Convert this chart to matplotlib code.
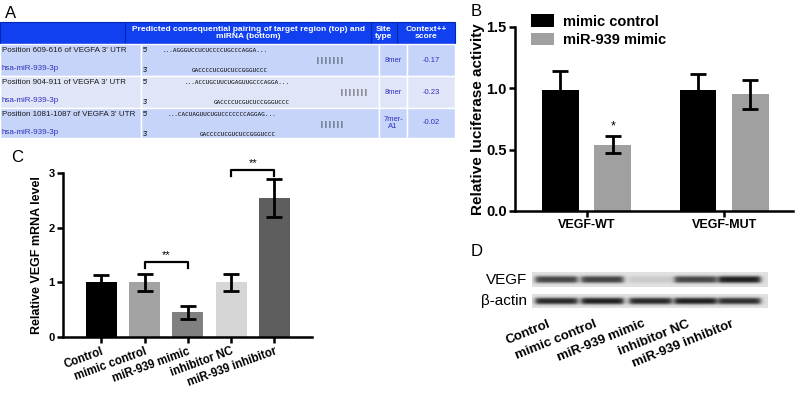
import numpy as np
import matplotlib
matplotlib.use('Agg')
import matplotlib.pyplot as plt
from matplotlib.patches import Rectangle

plt.rcParams['font.family'] = ['Liberation Sans', 'DejaVu Sans']

# Panel A - tabla de sitios
posiciones = ["Position 609-616 of VEGFA 3' UTR",
              "Position 904-911 of VEGFA 3' UTR",
              "Position 1081-1087 of VEGFA 3' UTR"]
mirna = "hsa-miR-939-3p"
seq_diana = ["...AGGGUCCUCUCCCCUGCCCAGGA...",
             "...ACCUGCUUCUGAGUUGCCCAGGA...",
             "...CACUAGUUCUGUCCCCCCCAGGAG..."]
seq_mirna = "GACCCCUCGUCUCCGGGUCCC"
emparejamiento = [7, 7, 6]
tipo_sitio = ["8mer", "8mer", "7mer-\nA1"]
context_score = ["-0.17", "-0.23", "-0.02"]

# Panel B - luciferasa
grupos_b = ["VEGF-WT", "VEGF-MUT"]
control_b = [0.99, 0.99]
control_b_err = [0.15, 0.13]
mimic_b = [0.54, 0.95]
mimic_b_err = [0.07, 0.12]

# Panel C - mRNA
grupos_c = ["Control", "mimic control", "miR-939 mimic", "inhibitor NC", "miR-939 inhibitor"]
valores_c = [1.01, 1.00, 0.45, 1.00, 2.54]
errores_c = [0.12, 0.16, 0.12, 0.16, 0.35]
colores_c = ['#000000', '#a3a3a3', '#808080', '#d6d6d6', '#5e5e5e']

# Panel D - western blot (intensidad relativa de banda)
bandas_vegf = [0.80, 0.82, 0.12, 0.80, 1.00]
bandas_actina = [0.95, 1.00, 0.95, 1.00, 0.92]

W, H = 796, 401
fig = plt.figure(figsize=(W / 100, H / 100), dpi=100)

def px_axes(x0, y0, x1, y1):
    return fig.add_axes([x0 / W, 1 - y1 / H, (x1 - x0) / W, (y1 - y0) / H])

# ---------------- Panel B ----------------
axb = px_axes(515, 27, 793, 211)
xg = np.arange(len(grupos_b))
off, ancho = 0.19, 0.265
axb.bar(xg - off, control_b, ancho, color='black', label='mimic control', zorder=2)
axb.bar(xg + off, mimic_b, ancho, color='#a0a0a0', label='miR-939 mimic', zorder=2)
axb.errorbar(xg - off, control_b, yerr=control_b_err, fmt='none', ecolor='black',
             elinewidth=2, capsize=6, capthick=2, zorder=3)
axb.errorbar(xg + off, mimic_b, yerr=mimic_b_err, fmt='none', ecolor='black',
             elinewidth=2, capsize=6, capthick=2, zorder=3)
axb.text(xg[0] + off, mimic_b[0] + mimic_b_err[0] + 0.03, '*', ha='center', va='bottom', fontsize=9)
axb.set_xlim(-0.52, 1.5)
axb.set_ylim(0, 1.5)
axb.set_yticks([0, 0.5, 1.0, 1.5])
axb.set_yticklabels(['0.0', '0.5', '1.0', '1.5'], fontweight='bold', fontsize=10.5)
axb.set_xticks(xg)
axb.set_xticklabels(grupos_b, fontweight='bold', fontsize=9)
axb.set_ylabel('Relative luciferase activity', fontweight='bold', fontsize=11, labelpad=1)
for s in ['top', 'right']:
    axb.spines[s].set_visible(False)
for s in ['left', 'bottom']:
    axb.spines[s].set_linewidth(1.8)
axb.tick_params(width=1.8, length=4, pad=2)
axb.legend(loc='upper left', bbox_to_anchor=(0.035, 1.1), frameon=False,
           prop={'weight': 'bold', 'size': 10.5}, handlelength=1.6, handleheight=0.9,
           labelspacing=0.3, borderaxespad=0, handletextpad=0.6)

# ---------------- Panel C ----------------
axc = px_axes(63, 173, 312, 337)
xc = np.arange(len(grupos_c))
axc.bar(xc, valores_c, 0.72, color=colores_c, zorder=2)
axc.errorbar(xc, valores_c, yerr=errores_c, fmt='none', ecolor='black',
             elinewidth=2, capsize=6, capthick=2, zorder=3)
axc.set_xlim(-0.89, 4.87)
axc.set_ylim(0, 3)
axc.set_yticks([0, 1, 2, 3])
axc.set_yticklabels(['0', '1', '2', '3'], fontweight='bold', fontsize=8)
axc.set_xticks(xc)
axc.set_xticklabels(grupos_c, fontweight='bold', fontsize=8.3, rotation=20,
                    ha='right', rotation_mode='anchor')
axc.set_ylabel('Relative VEGF mRNA level', fontweight='bold', fontsize=9, labelpad=4)
for s in ['top', 'right']:
    axc.spines[s].set_visible(False)
for s in ['left', 'bottom']:
    axc.spines[s].set_linewidth(1.8)
axc.tick_params(width=1.8, length=4, pad=2)

def corchete(ax, x1, x2, y, h, texto):
    ax.plot([x1, x1, x2, x2], [y - h, y, y, y - h], color='black', lw=1.6, clip_on=False)
    ax.text((x1 + x2) / 2, y + 0.04, texto, ha='center', va='bottom', fontsize=8, clip_on=False)

corchete(axc, 1, 2, 1.37, 0.1, '**')
corchete(axc, 3, 4, 3.05, 0.1, '**')

# ---------------- capa en pixeles: tabla A, blot D, letras ----------------
ax0 = fig.add_axes([0, 0, 1, 1], zorder=-1)
ax0.set_xlim(0, W)
ax0.set_ylim(H, 0)
ax0.axis('off')

azul_cab = '#1040f0'
fila_col = ['#c5d4f8', '#e0e5f8', '#c5d4f8']
cols_cab = [0, 125, 371, 397, 455]
cols = [0, 141, 379, 407, 455]
filas = [22, 44, 76, 108, 138]

# cabecera
for i in range(4):
    ax0.add_patch(Rectangle((cols_cab[i], filas[0]), cols_cab[i + 1] - cols_cab[i], filas[1] - filas[0],
                            facecolor=azul_cab, edgecolor='#0028b0', lw=0.8))
cab_txt = ['', 'Predicted consequential pairing of target region (top) and\nmiRNA (bottom)',
           'Site\ntype', 'Context++\nscore']
for i in range(1, 4):
    ax0.text((cols_cab[i] + cols_cab[i + 1]) / 2, (filas[0] + filas[1]) / 2, cab_txt[i], color='white',
             fontweight='bold', fontsize=6, ha='center', va='center', linespacing=1.1)

desp_seq = [0, 22, 8]
desp_bar = [330, 354, 332]
for r in range(3):
    y0, y1 = filas[r + 1], filas[r + 2]
    for i in range(4):
        ax0.add_patch(Rectangle((cols[i], y0), cols[i + 1] - cols[i], y1 - y0,
                                facecolor=fila_col[r], edgecolor='white', lw=1.0))
    ax0.text(2, y0 + 7, posiciones[r], fontsize=5.8, ha='left', va='center', color='#1a1a1a')
    ax0.text(2, y0 + 25, mirna, fontsize=5.8, ha='left', va='center', color='#3030c0')
    ax0.text(143, y0 + 7, "5'", fontsize=5, ha='left', va='center')
    ax0.text(143, y0 + 26, "3'", fontsize=5, ha='left', va='center')
    ax0.text(268 + desp_seq[r], y0 + 7, seq_diana[r], fontsize=4.3,
             family='DejaVu Sans Mono', ha='right', va='center')
    ax0.text(268 + desp_seq[r], y0 + 26, seq_mirna, fontsize=4.3,
             family='DejaVu Sans Mono', ha='right', va='center')
    ax0.text(desp_bar[r], y0 + 17, ' '.join(['|'] * emparejamiento[r]), fontsize=5.5,
             ha='center', va='center')
    ax0.text((cols[2] + cols[3]) / 2, (y0 + y1) / 2, tipo_sitio[r], fontsize=5.5,
             ha='center', va='center', color='#3030c0', linespacing=1.0)
    ax0.text((cols[3] + cols[4]) / 2, (y0 + y1) / 2, context_score[r], fontsize=5.5,
             ha='center', va='center', color='#3030c0')

# blot D
centros = np.array([556, 602, 650, 695, 739])
xs = np.arange(532, 768)

def tira(intens, altura=15):
    img = np.full((altura, len(xs)), 0.88)
    yy = np.arange(altura) - (altura - 1) / 2
    perfil_y = np.exp(-(np.abs(yy) / 3.6) ** 3)
    for c, v in zip(centros, intens):
        perfil_x = 1 / (1 + np.exp((np.abs(xs - c) - 21) / 1.5))
        img -= 0.75 * v * perfil_y[:, None] * perfil_x[None, :]
    return np.clip(img, 0, 1)

ax0.imshow(tira(bandas_vegf), cmap='gray', vmin=0, vmax=1, extent=(532, 768, 287, 272),
           aspect='auto', interpolation='bilinear')
ax0.imshow(tira(bandas_actina), cmap='gray', vmin=0, vmax=1, extent=(532, 768, 308, 294),
           aspect='auto', interpolation='bilinear')
ax0.text(527, 280, 'VEGF', fontsize=11, ha='right', va='center')
ax0.text(527, 301, 'β-actin', fontsize=11, ha='right', va='center')
for c, nombre in zip(centros, grupos_c):
    ax0.text(c - 8, 318, nombre, fontsize=9.5, fontweight='bold', rotation=22,
             ha='right', va='top', rotation_mode='anchor')

ax0.set_xlim(0, W)
ax0.set_ylim(H, 0)

# letras de panel
for letra, x, y in [('A', 5, 14), ('B', 471, 12), ('C', 11, 157), ('D', 471, 252)]:
    ax0.text(x, y, letra, fontsize=12, ha='left', va='center')

fig.savefig('out.png', dpi=100)
